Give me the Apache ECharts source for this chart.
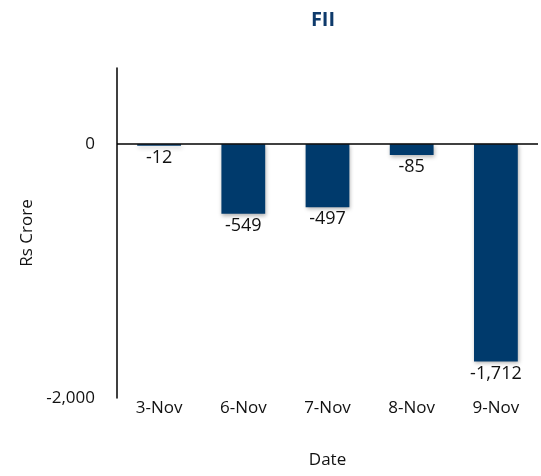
<!DOCTYPE html>
<html><head><meta charset="utf-8">
<script src="https://cdn.jsdelivr.net/npm/echarts@6/dist/echarts.min.js"></script>
<style>html,body{margin:0;padding:0;background:#fff}#c{width:541px;height:476px}</style>
</head><body><div id="c"></div>
<script>
var categories = ['3-Nov', '6-Nov', '7-Nov', '8-Nov', '9-Nov'];
var values = [-12, -549, -497, -85, -1712];
var yTicks = [-2000, 0];

var fmt = function (v) { return v.toLocaleString('en-US'); };
var font = "'Open Sans', 'Liberation Sans', sans-serif";
var chart = echarts.init(document.getElementById('c'), null, {renderer: 'canvas'});
chart.setOption({
  animation: false,
  title: {text: 'FII', left: 318, top: 5, textAlign: 'center',
    textStyle: {fontFamily: font, fontSize: 20, fontWeight: 'bold', color: '#0e3a6b'}},
  grid: {left: 117, right: 3, top: 68, bottom: 78},
  xAxis: {type: 'category', data: categories, position: 'bottom',
    axisLine: {show: false, onZero: false}, axisTick: {show: false},
    axisLabel: {margin: 2, fontFamily: font, fontSize: 17, color: '#111'},
    name: 'Date', nameLocation: 'middle', nameGap: 54,
    nameTextStyle: {fontFamily: font, fontSize: 17, color: '#111'}},
  yAxis: {type: 'value', min: -2000, max: 600, interval: 2000,
    axisLine: {show: true, lineStyle: {color: '#000', width: 1.5}},
    axisTick: {show: false}, splitLine: {show: false},
    axisLabel: {margin: 22, fontFamily: font, fontSize: 17, color: '#111',
      formatter: function (v) { return yTicks.indexOf(v) >= 0 ? fmt(v) : ''; }},
    name: 'Rs Crore', nameLocation: 'middle', nameGap: 80, nameRotate: 90,
    nameTextStyle: {fontFamily: font, fontSize: 17, color: '#111'}},
  series: [{type: 'bar', data: values, barWidth: '52%',
    itemStyle: {color: '#003a6c', shadowColor: 'rgba(0,0,0,0.3)', shadowBlur: 4, shadowOffsetX: 1, shadowOffsetY: 2},
    label: {show: true, position: 'bottom', distance: 3, fontFamily: font, fontSize: 18, color: '#111',
      formatter: function (p) { return fmt(p.value); }},
    markLine: {silent: true, symbol: 'none', label: {show: false},
      lineStyle: {color: '#000', width: 1.5, type: 'solid'}, data: [{yAxis: 0}]}
  }]
});
</script></body></html>
